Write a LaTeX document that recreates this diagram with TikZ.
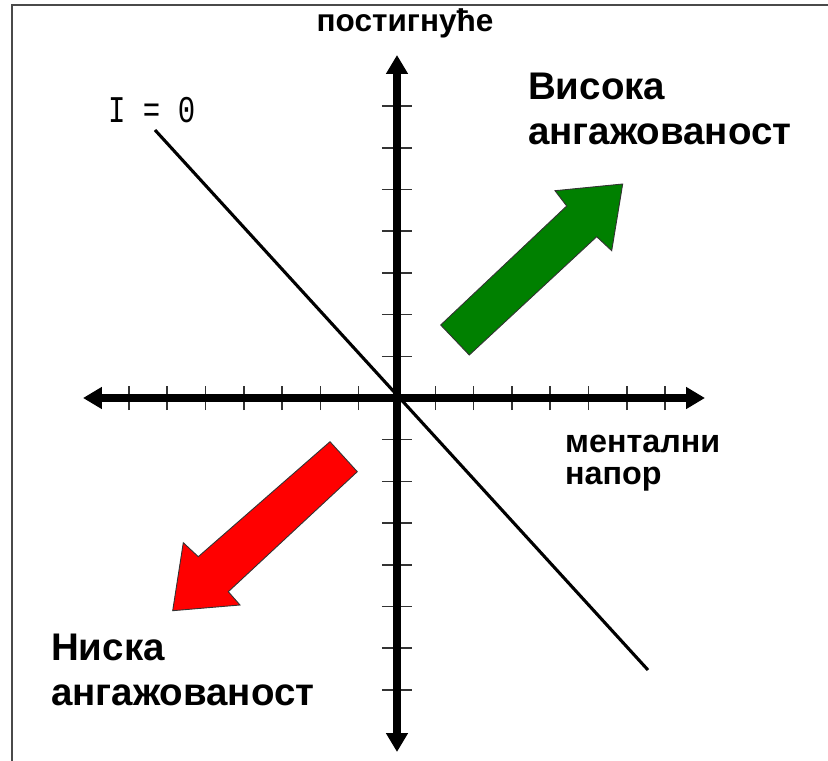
\documentclass[tikz,border=0pt]{standalone}
\usepackage{fontspec}
\setmainfont{Liberation Sans}
\newfontfamily\codefont{Liberation Mono}
\usetikzlibrary{arrows.meta}
\definecolor{ink}{HTML}{000000}
\definecolor{frame}{HTML}{4A4A4A}
\definecolor{highgreen}{HTML}{008000}
\definecolor{lowred}{HTML}{FF0000}
\tikzset{
  axis/.style={draw=ink,line width=7.5pt,
    {Triangle[length=19pt,width=21pt]}-{Triangle[length=19pt,width=21pt]}},
  tickmark/.style={draw=ink!80,line width=1.5pt},
  zeroline/.style={draw=ink,line width=3.1pt},
  blockarrow/.style={draw=ink!80,line width=0.9pt,line join=miter},
  biglabel/.style={font=\bfseries\fontsize{38.5}{45}\selectfont,align=left,inner sep=0pt},
  axislabel/.style={font=\bfseries\fontsize{32.3}{32}\selectfont,align=left,inner sep=0pt}
}

\begin{document}
\begin{tikzpicture}[x=1pt,y=1pt]
\useasboundingbox (-397,-363) rectangle (431,398);

% frame, only left and top edge show
\draw[frame,line width=1.5pt] (-385,-363) -- (-385,393) -- (431,393);

\coordinate (O) at (0,0);
\coordinate (xleft) at (-314,0);
\coordinate (xright) at (308,0);
\coordinate (ytop) at (0,343);
\coordinate (ybottom) at (0,-354);

\foreach \k in {1,...,7} {
  \draw[tickmark] (38.3*\k,-12) -- (38.3*\k,12);
  \draw[tickmark] (-38.3*\k,-12) -- (-38.3*\k,12);
  \draw[tickmark] (-15,41.7*\k) -- (15,41.7*\k);
  \draw[tickmark] (-15,-41.7*\k) -- (15,-41.7*\k);
}
\draw[axis] (xleft) -- (xright);
\draw[axis] (ybottom) -- (ytop);

\coordinate (lstart) at (-242,268);
\coordinate (lend) at (251,-272);
\draw[zeroline] (lstart) -- (lend);

% block arrows
\filldraw[blockarrow,fill=highgreen]
  (43.7,73) -- (169.7,192) -- (158,207.3) -- (225.7,214)
  -- (214.7,147.3) -- (199.7,161.3) -- (72.3,43) -- cycle;
\filldraw[blockarrow,fill=lowred]
  (-67,-43.7) -- (-198.7,-158.7) -- (-213.7,-144.7) -- (-224.3,-212.7)
  -- (-157,-207) -- (-168.7,-193.7) -- (-39.7,-73.7) -- cycle;

\node[axislabel,anchor=base,font=\bfseries\fontsize{31.5}{32}\selectfont]
  (ylabel) at (8,366) {постигнуће};
\node[axislabel,anchor=base west] (xlabel) at (168,-86) {ментални\\напор};
\node[biglabel,anchor=base west] (high) at (131,253) {Висока\\ангажованост};
\node[biglabel,anchor=base west] (low) at (-346,-307) {Ниска\\ангажованост};
\node[anchor=base west,inner sep=0pt,font=\codefont\fontsize{29}{30}\selectfont,
  yscale=1.3,transform shape] (izero) at (-289,275) {I = 0};

\end{tikzpicture}
\end{document}
